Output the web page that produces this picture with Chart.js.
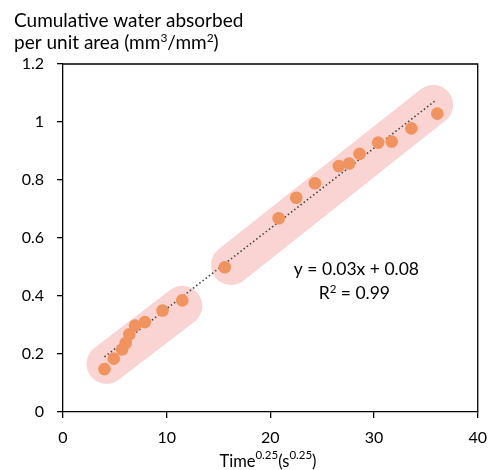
<!DOCTYPE html>
<html>
<head>
<meta charset="utf-8">
<script src="https://cdn.jsdelivr.net/npm/chart.js@4/dist/chart.umd.min.js"></script>
<style>
  body { margin: 0; background: #fff; }
  #wrap { width: 497px; height: 470px; }
</style>
</head>
<body>
<div id="wrap"><canvas id="myChart"></canvas></div>
<script>
var timeQ = [4.0, 4.9, 5.7, 6.05, 6.4, 6.95, 7.9, 9.6, 11.5, 15.6, 20.8, 22.5, 24.3, 26.6, 27.6, 28.6, 30.4, 31.7, 33.6, 36.1];
var absorbed = [0.148, 0.184, 0.216, 0.238, 0.268, 0.298, 0.31, 0.35, 0.385, 0.499, 0.668, 0.739, 0.789, 0.848, 0.857, 0.89, 0.929, 0.933, 0.978, 1.029];

// dotted trend line ends
var trendX = [4.0, 36.0];
var trendY = [0.19, 1.076];

// pink highlight bands (two groups)
var band1X = [4.2, 11.5];
var band1Y = [0.166, 0.366];
var band2X = [16.2, 35.7];
var band2Y = [0.507, 1.059];

var xTicks = [0, 10, 20, 30, 40];
var yTicks = [0, 0.2, 0.4, 0.6, 0.8, 1, 1.2];

var eqText = ['y = 0.03x + 0.08', 'R\u00b2 = 0.99'];

function pts(xs, ys) {
    var out = [];
    for (var i in xs) out.push({ x: xs[i], y: ys[i] });
    return out;
}

var FONT = 'Lato, "Open Sans", sans-serif';

// text with superscript pieces: parts = [[text, isSup], ...]
function drawParts(ctx, parts, x, y, size, supSize, supRise, align) {
    var w = 0;
    parts.forEach(function(p) {
        ctx.font = (p[1] ? supSize : size) + 'px ' + FONT;
        w += ctx.measureText(p[0]).width;
    });
    if (align === 'center') x = x - w / 2;
    parts.forEach(function(p) {
        ctx.font = (p[1] ? supSize : size) + 'px ' + FONT;
        ctx.fillText(p[0], x, p[1] ? y - supRise : y);
        x += ctx.measureText(p[0]).width;
    });
}

// frame + titles + equation text
const extras = {
    id: 'extras',
    afterDatasetsDraw(chart) {
        const ctx = chart.ctx;
        const a = chart.chartArea;
        ctx.save();
        ctx.strokeStyle = '#000';
        ctx.lineWidth = 1.3;
        ctx.beginPath();
        ctx.moveTo(a.left, a.top);
        ctx.lineTo(a.right, a.top);
        ctx.lineTo(a.right, a.bottom);
        ctx.stroke();

        const xs = chart.scales.x, ys = chart.scales.y;
        ctx.fillStyle = '#000';
        ctx.textAlign = 'left';
        ctx.textBaseline = 'alphabetic';

        // regression text
        drawParts(ctx, [[eqText[0], 0]], xs.getPixelForValue(28.3), 275, 17.5, 11.5, 6, 'center');
        drawParts(ctx, [['R', 0], ['2', 1], [' = 0.99', 0]], xs.getPixelForValue(28.1), 299, 17.5, 11.5, 6, 'center');

        // y title on top
        drawParts(ctx, [['Cumulative water absorbed', 0]], 14, 27, 19, 12, 7, 'left');
        drawParts(ctx, [['per unit area (mm', 0], ['3', 1], ['/mm', 0], ['2', 1], [')', 0]], 14, 49, 19, 12, 7, 'left');

        // x title with superscripts
        drawParts(ctx, [['Time', 0], ['0.25', 1], ['(s', 0], ['0.25', 1], [')', 0]], 268, 467, 16.5, 11.5, 8, 'center');
        ctx.restore();
    }
};

const config = {
    type: 'scatter',
    data: {
        datasets: [{
                label: 'data',
                data: pts(timeQ, absorbed),
                backgroundColor: '#F0935E',
                borderWidth: 0,
                pointRadius: 6.3,
                order: 1
            },
            {
                label: 'trend',
                data: pts(trendX, trendY),
                showLine: true,
                borderColor: '#444',
                borderWidth: 1.6,
                borderDash: [1.5, 2.5],
                pointRadius: 0,
                order: 2
            },
            {
                label: 'band1',
                data: pts(band1X, band1Y),
                showLine: true,
                borderColor: '#F9D4D3',
                borderWidth: 40,
                borderCapStyle: 'round',
                pointRadius: 0,
                order: 3
            },
            {
                label: 'band2',
                data: pts(band2X, band2Y),
                showLine: true,
                borderColor: '#F9D4D3',
                borderWidth: 40,
                borderCapStyle: 'round',
                pointRadius: 0,
                order: 3
            }
        ]
    },
    options: {
        animation: false,
        responsive: true,
        maintainAspectRatio: false,
        layout: { padding: { top: 64, right: 14, left: 0, bottom: 0 } },
        plugins: { legend: { display: false }, tooltip: { enabled: false } },
        scales: {
            x: {
                type: 'linear',
                min: 0,
                max: 40,
                afterBuildTicks: function(s) { s.ticks = xTicks.map(function(v) { return { value: v }; }); },
                afterFit: function(s) { s.height = 58; },
                grid: { drawOnChartArea: false, tickLength: 6, color: '#000', lineWidth: 1.3 },
                border: { color: '#000', width: 1.3 },
                ticks: { color: '#000', font: { family: FONT, size: 16 }, padding: 10, maxRotation: 0 }
            },
            y: {
                type: 'linear',
                min: 0,
                max: 1.2,
                afterBuildTicks: function(s) { s.ticks = yTicks.map(function(v) { return { value: v }; }); },
                afterFit: function(s) { s.width = 63; },
                grid: { drawOnChartArea: false, tickLength: 6, color: '#000', lineWidth: 1.3 },
                border: { color: '#000', width: 1.3 },
                ticks: {
                    color: '#000',
                    font: { family: FONT, size: 16 },
                    padding: 13,
                    callback: function(v) { return String(Math.round(v * 10) / 10); }
                }
            }
        }
    },
    plugins: [extras]
};

var myChart = new Chart(document.getElementById('myChart'), config);
</script>
</body>
</html>
